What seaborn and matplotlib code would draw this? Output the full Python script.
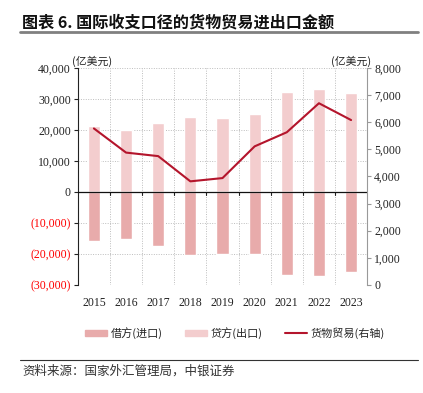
import numpy as np
import pandas as pd
import matplotlib
matplotlib.use("Agg")
import matplotlib.pyplot as plt
import seaborn as sns
from matplotlib.patches import Patch
from matplotlib.lines import Line2D
from matplotlib.ticker import FuncFormatter

years = ["2015", "2016", "2017", "2018", "2019", "2020", "2021", "2022", "2023"]
imports = [-15700, -15050, -17530, -20430, -19900, -19900, -26670, -27000, -25800]
exports = [21400, 20100, 22150, 24300, 23980, 25160, 32360, 33330, 31830]
goods_balance = [5770, 4880, 4750, 3820, 3940, 5110, 5630, 6700, 6080]

label_imp = "借方(进口)"
label_exp = "贷方(出口)"
label_bal = "货物贸易(右轴)"
title = "图表 6. 国际收支口径的货物贸易进出口金额"
source = "资料来源：国家外汇管理局，中银证券"
unit = "(亿美元)"

c_imp = "#E8ABAB"
c_exp = "#F3CDCE"
c_line = "#B4152C"

sns.set_style("white")
plt.rcParams['font.family'] = ['Liberation Serif', 'Noto Sans CJK SC', 'DejaVu Sans']
cjk = ['Noto Sans CJK SC', 'DejaVu Sans']

df = pd.DataFrame({"year": years, "imp": imports, "exp": exports, "bal": goods_balance})

fig = plt.figure(figsize=(4.23, 3.93), dpi=100)
ax = fig.add_axes([0.184, 0.275, 0.684, 0.552])

sns.barplot(data=df, x="year", y="exp", color=c_exp, width=0.38, ax=ax, saturation=1, zorder=2)
sns.barplot(data=df, x="year", y="imp", color=c_imp, width=0.38, ax=ax, saturation=1, zorder=2)
ax.set_xlim(-0.5, len(years) - 0.5)
ax.set_ylim(-30000, 40000)
ax.set_yticks(np.arange(-30000, 40001, 10000))

def lfmt(v, p):
    if v < 0:
        return "({:,.0f})".format(-v)
    return "{:,.0f}".format(v)
ax.yaxis.set_major_formatter(FuncFormatter(lfmt))
for lab, v in zip(ax.get_yticklabels(), ax.get_yticks()):
    lab.set_color("#FF0000" if v < 0 else "#222222")
ax.set_xlabel("")
ax.set_ylabel("")
ax.tick_params(axis='y', labelsize=8.5, length=3, width=0.8, color="#222222", direction='out', pad=2)
ax.tick_params(axis='x', labelsize=8.5, length=0, pad=9, labelcolor="#222222")

# grid
for y in np.arange(-30000, 40001, 10000):
    ax.axhline(y, color="#BDBDBD", lw=0.7, ls=(0, (1, 1.5)), zorder=0)
for xb in np.arange(0.5, len(years) - 0.5, 1):
    ax.axvline(xb, color="#BDBDBD", lw=0.7, ls=(0, (1, 1.5)), zorder=0)
    ax.plot([xb, xb], [0, -1000], color="#222222", lw=0.8, zorder=3)
ax.axhline(0, color="#111111", lw=0.9, zorder=3)

for s in ["top", "bottom"]:
    ax.spines[s].set_visible(False)
ax.spines["left"].set_color("#222222")
ax.spines["left"].set_linewidth(0.8)
ax.spines["right"].set_visible(False)

ax2 = ax.twinx()
sns.lineplot(x=np.arange(len(years)), y=goods_balance, color=c_line, lw=1.5, ax=ax2, zorder=4)
ax2.set_ylim(0, 8000)
ax2.set_yticks(np.arange(0, 8001, 1000))
ax2.yaxis.set_major_formatter(FuncFormatter(lambda v, p: "{:,.0f}".format(v)))
ax2.tick_params(axis='y', labelsize=8.5, length=3, width=0.8, color="#999999", direction='out', pad=2, labelcolor="#222222")
for s in ["top", "bottom", "left"]:
    ax2.spines[s].set_visible(False)
ax2.spines["right"].set_color("#999999")
ax2.spines["right"].set_linewidth(0.8)
ax2.set_xlim(-0.5, len(years) - 0.5)

fig.text(0.17, 0.845, unit, fontsize=7.8, family=cjk, color="#222222", ha="left", va="center")
fig.text(0.877, 0.845, unit, fontsize=7.8, family=cjk, color="#222222", ha="right", va="center")

# title
fig.text(0.052, 0.944, title, fontsize=11.6, fontweight="bold", family=cjk, color="#111111", ha="left", va="center")
fig.add_artist(Line2D([0.047, 0.988], [0.918, 0.918], color="#808080", lw=2))
# source
fig.add_artist(Line2D([0.047, 0.988], [0.085, 0.085], color="#333333", lw=0.8))
fig.text(0.052, 0.056, source, fontsize=9, family=cjk, style="italic", color="#333333", ha="left", va="center")

handles = [Patch(color=c_imp, label=label_imp), Patch(color=c_exp, label=label_exp),
           Line2D([0], [0], color=c_line, lw=1.5, label=label_bal)]
fig.legend(handles=handles, loc="center", bbox_to_anchor=(0.555, 0.153), ncol=3, frameon=False,
           prop={'family': cjk, 'size': 8}, handlelength=2.0, handleheight=0.5, columnspacing=2.0, handletextpad=0.3)

fig.savefig("out.png", dpi=100)
